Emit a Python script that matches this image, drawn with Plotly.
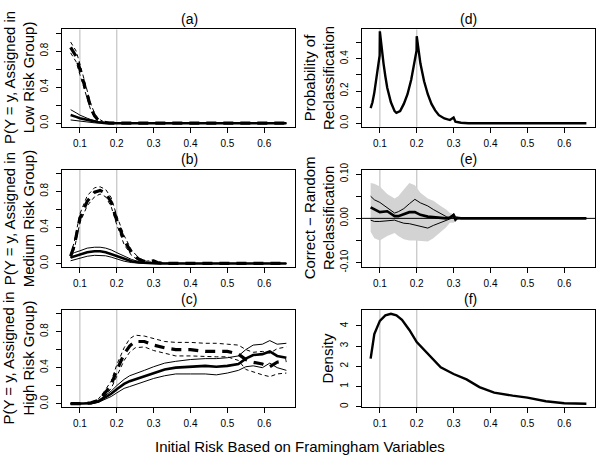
import plotly.graph_objects as go

# ---------------- data ----------------
# (a) low risk group
a_x = [0.075, 0.08, 0.09, 0.1, 0.11, 0.12, 0.13, 0.14, 0.15, 0.165, 0.18, 0.2, 0.3, 0.4, 0.5, 0.6, 0.66]
a_dash = [0.84, 0.81, 0.74, 0.60, 0.45, 0.30, 0.17, 0.08, 0.035, 0.01, 0.0, 0, 0, 0, 0, 0, 0]
a_dash_hi = [0.90, 0.87, 0.80, 0.66, 0.50, 0.35, 0.21, 0.11, 0.05, 0.015, 0.003, 0, 0, 0, 0, 0, 0]
a_dash_lo = [0.78, 0.75, 0.68, 0.54, 0.40, 0.26, 0.14, 0.06, 0.02, 0.005, 0, 0, 0, 0, 0, 0, 0]
a_sol = [0.09, 0.085, 0.07, 0.055, 0.045, 0.035, 0.025, 0.017, 0.01, 0.004, 0.001, 0, 0, 0, 0, 0, 0]
a_sol_hi = [0.15, 0.14, 0.115, 0.09, 0.07, 0.055, 0.04, 0.028, 0.018, 0.008, 0.002, 0, 0, 0, 0, 0, 0]
a_sol_lo = [0.036, 0.033, 0.026, 0.02, 0.015, 0.011, 0.007, 0.004, 0.002, 0.001, 0, 0, 0, 0, 0, 0, 0]

# (b) medium risk group
b_x = [0.075, 0.085, 0.1, 0.12, 0.14, 0.155, 0.17, 0.185, 0.2, 0.22, 0.24, 0.26, 0.28, 0.3, 0.31, 0.33, 0.4, 0.5, 0.6, 0.66]
b_dash = [0.08, 0.2, 0.5, 0.69, 0.79, 0.81, 0.78, 0.68, 0.48, 0.26, 0.12, 0.045, 0.018, 0.028, 0.01, 0, 0, 0, 0, 0]
b_dash_hi = [0.1, 0.24, 0.55, 0.75, 0.84, 0.85, 0.82, 0.73, 0.53, 0.31, 0.15, 0.06, 0.025, 0.035, 0.015, 0.002, 0, 0, 0, 0]
b_dash_lo = [0.06, 0.16, 0.45, 0.64, 0.74, 0.77, 0.74, 0.63, 0.43, 0.21, 0.09, 0.03, 0.01, 0.02, 0.005, 0, 0, 0, 0, 0]
b_sol = [0.065, 0.08, 0.1, 0.125, 0.135, 0.135, 0.125, 0.105, 0.08, 0.05, 0.025, 0.01, 0.004, 0.002, 0.001, 0, 0, 0, 0, 0]
b_sol_hi = [0.1, 0.12, 0.14, 0.17, 0.18, 0.18, 0.17, 0.15, 0.12, 0.08, 0.045, 0.02, 0.008, 0.004, 0.002, 0, 0, 0, 0, 0]
b_sol_lo = [0.03, 0.04, 0.06, 0.08, 0.09, 0.09, 0.085, 0.07, 0.05, 0.025, 0.01, 0.003, 0.001, 0, 0, 0, 0, 0, 0, 0]

# (c) high risk group
c_x = [0.075, 0.1, 0.13, 0.15, 0.165, 0.185, 0.2, 0.22, 0.235, 0.25, 0.275, 0.3, 0.33, 0.36, 0.4, 0.44, 0.47, 0.5, 0.53, 0.55, 0.57, 0.595, 0.615, 0.635, 0.66]
c_dash = [0, 0, 0.01, 0.035, 0.1, 0.21, 0.37, 0.55, 0.64, 0.69, 0.69, 0.65, 0.62, 0.6, 0.6, 0.58, 0.58, 0.58, 0.55, 0.49, 0.46, 0.44, 0.41, 0.46, 0.48]
c_dash_hi = [0, 0, 0.015, 0.05, 0.13, 0.25, 0.43, 0.62, 0.72, 0.76, 0.75, 0.72, 0.69, 0.68, 0.68, 0.67, 0.67, 0.66, 0.65, 0.6, 0.57, 0.58, 0.56, 0.61, 0.63]
c_dash_lo = [0, 0, 0.005, 0.02, 0.07, 0.17, 0.31, 0.48, 0.57, 0.62, 0.63, 0.59, 0.56, 0.53, 0.53, 0.52, 0.52, 0.52, 0.48, 0.38, 0.35, 0.32, 0.3, 0.33, 0.34]
c_sol = [0, 0, 0.005, 0.025, 0.06, 0.11, 0.16, 0.22, 0.25, 0.27, 0.31, 0.34, 0.38, 0.4, 0.41, 0.42, 0.41, 0.42, 0.44, 0.5, 0.54, 0.55, 0.58, 0.53, 0.51]
c_sol_hi = [0, 0, 0.01, 0.035, 0.08, 0.14, 0.2, 0.27, 0.31, 0.33, 0.37, 0.41, 0.45, 0.47, 0.49, 0.5, 0.5, 0.51, 0.53, 0.6, 0.65, 0.66, 0.7, 0.66, 0.67]
c_sol_lo = [0, 0, 0.002, 0.015, 0.04, 0.08, 0.12, 0.17, 0.19, 0.21, 0.25, 0.28, 0.31, 0.33, 0.33, 0.33, 0.32, 0.34, 0.37, 0.41, 0.42, 0.4, 0.45, 0.4, 0.37]

# (d) probability of reclassification
d_x = [0.075, 0.08, 0.085, 0.09, 0.095, 0.0995, 0.1, 0.105, 0.11, 0.115, 0.12, 0.13, 0.14, 0.145, 0.155, 0.165,
       0.175, 0.185, 0.195, 0.1995, 0.2, 0.205, 0.21, 0.22, 0.23, 0.24, 0.25, 0.26, 0.275, 0.29, 0.3, 0.305,
       0.32, 0.34, 0.4, 0.5, 0.6, 0.66]
d_y = [0.094, 0.13, 0.19, 0.26, 0.33, 0.42, 0.57, 0.46, 0.37, 0.29, 0.22, 0.13, 0.075, 0.064, 0.075, 0.12,
       0.18, 0.27, 0.38, 0.45, 0.54, 0.45, 0.37, 0.26, 0.18, 0.12, 0.08, 0.05, 0.03, 0.02, 0.036, 0.01,
       0.003, 0, 0, 0, 0, 0]

# (e) correct - random reclassification
e_x = [0.075, 0.085, 0.1, 0.12, 0.14, 0.15, 0.165, 0.18, 0.195, 0.21, 0.23, 0.245, 0.265, 0.28, 0.29, 0.3,
       0.305, 0.31, 0.32, 0.33, 0.34, 0.4, 0.5, 0.6, 0.66]
e_band_hi = [0.08, 0.078, 0.072, 0.055, 0.045, 0.05, 0.065, 0.08, 0.075, 0.058, 0.045, 0.04, 0.028, 0.02, 0.012,
             0.01, 0.006, 0.004, 0.002, 0.001, 0, 0, 0, 0, 0]
e_band_lo = [-0.03, -0.045, -0.05, -0.04, -0.033, -0.04, -0.047, -0.05, -0.05, -0.05, -0.052, -0.045, -0.03,
             -0.02, -0.01, -0.01, -0.005, -0.003, -0.001, 0, 0, 0, 0, 0, 0]
e_hi = [0.05, 0.042, 0.036, 0.025, 0.012, 0.015, 0.022, 0.033, 0.043, 0.035, 0.028, 0.02, 0.01, 0.004, 0.0,
        0.011, 0.004, 0.002, 0.001, 0, 0, 0, 0, 0, 0]
e_mid = [0.025, 0.02, 0.014, 0.016, 0.005, 0.005, 0.01, 0.014, 0.014, 0.008, 0.004, 0.003, 0.001, 0.0, 0.002,
         0.007, -0.003, 0.001, 0, 0, 0, 0, 0, 0, 0]
e_lo = [-0.004, -0.007, -0.007, -0.005, -0.004, -0.007, -0.011, -0.012, -0.015, -0.018, -0.022, -0.016, -0.01,
        -0.005, -0.002, 0.002, -0.004, -0.001, 0, 0, 0, 0, 0, 0, 0]

# (f) density
f_x = [0.075, 0.085, 0.1, 0.115, 0.13, 0.145, 0.16, 0.18, 0.2, 0.22, 0.24, 0.265, 0.3, 0.335, 0.37, 0.41,
       0.46, 0.5, 0.55, 0.6, 0.66]
f_y = [2.38, 3.6, 4.25, 4.52, 4.6, 4.52, 4.3, 3.8, 3.2, 2.8, 2.4, 1.95, 1.62, 1.35, 0.97, 0.7,
       0.55, 0.45, 0.27, 0.17, 0.15]

panel_titles = ["(a)", "(b)", "(c)", "(d)", "(e)", "(f)"]
ylabels = ["P(Y = y, Assigned in<br>Low Risk Group)",
           "P(Y = y, Assigned in<br>Medium Risk Group)",
           "P(Y = y, Assigned in<br>High Risk Group)",
           "Probability of<br>Reclassification",
           "Correct \u2212 Random<br>Reclassification",
           "Density"]
xlabel = "Initial Risk Based on Framingham Variables"
x_ticks = [0.1, 0.2, 0.3, 0.4, 0.5, 0.6]
x_ticktext = ["0.1", "0.2", "0.3", "0.4", "0.5", "0.6"]
cutpoints = [0.1, 0.2]

# ---------------- figure ----------------
W, H = 600, 462
FONT = "Liberation Sans, Arial, Helvetica, sans-serif"
fig = go.Figure()

left_x = [62, 295]
right_x = [362, 595]
rows_px = [(23, 123), (167, 267), (311, 411)]


def xdom(px):
    return [px[0] / W, px[1] / W]


def ydom(r):
    return [1 - r[1] / H, 1 - r[0] / H]


panels = [
    (xdom(left_x), ydom(rows_px[0])),
    (xdom(left_x), ydom(rows_px[1])),
    (xdom(left_x), ydom(rows_px[2])),
    (xdom(right_x), ydom(rows_px[0])),
    (xdom(right_x), ydom(rows_px[1])),
    (xdom(right_x), ydom(rows_px[2])),
]

yspecs = [
    dict(range=[-0.04, 1.04], tickvals=[0, 0.2, 0.4, 0.6, 0.8, 1.0], ticktext=["0.0", "", "0.4", "", "0.8", ""]),
    dict(range=[-0.04, 1.04], tickvals=[0, 0.2, 0.4, 0.6, 0.8, 1.0], ticktext=["0.0", "", "0.4", "", "0.8", ""]),
    dict(range=[-0.04, 1.04], tickvals=[0, 0.2, 0.4, 0.6, 0.8, 1.0], ticktext=["0.0", "", "0.4", "", "0.8", ""]),
    dict(range=[-0.022, 0.582], tickvals=[0, 0.1, 0.2, 0.3, 0.4, 0.5], ticktext=["0.0", "", "0.2", "", "0.4", ""]),
    dict(range=[-0.11, 0.11], tickvals=[-0.1, -0.05, 0, 0.05, 0.1], ticktext=["-0.10", "", "0.00", "", "0.10"]),
    dict(range=[-0.03, 4.79], tickvals=[0, 1, 2, 3, 4], ticktext=["0", "1", "2", "3", "4"]),
]

for i, (xd, yd) in enumerate(panels):
    n = "" if i == 0 else str(i + 1)
    fig.layout["xaxis" + n] = dict(
        domain=xd, anchor="y" + n, range=[0.0516, 0.6834],
        tickvals=x_ticks, ticktext=x_ticktext,
        showline=True, mirror=True, linecolor="black", linewidth=1,
        ticks="outside", ticklen=5, tickcolor="black", tickwidth=1,
        showgrid=False, zeroline=False, ticklabelstandoff=2,
        tickfont=dict(size=10, color="black", family=FONT),
    )
    fig.layout["yaxis" + n] = dict(
        domain=yd, anchor="x" + n,
        showline=True, mirror=True, linecolor="black", linewidth=1,
        ticks="outside", ticklen=5, tickcolor="black", tickwidth=1,
        showgrid=False, zeroline=False, tickangle=-90, ticklabelstandoff=4,
        tickfont=dict(size=10, color="black", family=FONT),
        **yspecs[i],
    )
    # cut-point reference lines
    for c in cutpoints:
        fig.add_shape(type="line", xref="x" + n, yref="y" + n + " domain",
                      x0=c, x1=c, y0=0, y1=1,
                      line=dict(color="#c8c8c8", width=1.3), layer="below")
    # panel title
    fig.add_annotation(text=panel_titles[i], xref="paper", yref="paper",
                       x=(xd[0] + xd[1]) / 2, y=yd[1] + 11 / H, yanchor="middle",
                       showarrow=False, font=dict(size=14, color="black", family=FONT))

# y-axis labels
for i, (xd, yd) in enumerate(panels):
    two = "<br>" in ylabels[i]
    base = 19 if i < 3 else 319
    xpos = base if two else base + 9
    fig.add_annotation(text=ylabels[i], xref="paper", yref="paper",
                       x=xpos / W, y=(yd[0] + yd[1]) / 2, textangle=-90,
                       xanchor="center", yanchor="middle", showarrow=False,
                       font=dict(size=15, color="black", family=FONT))

fig.add_annotation(text=xlabel, xref="paper", yref="paper", x=0.5, y=1 - 451 / H,
                   xanchor="center", yanchor="middle", showarrow=False,
                   font=dict(size=15, color="black", family=FONT))

THIN = dict(color="black", width=1)
THICK = dict(color="black", width=2.6)
THIN_D = dict(color="black", width=1, dash="4px,3px")
THICK_D = dict(color="black", width=3.2, dash="10px,7px")


def add(x, y, line, k):
    n = "" if k == 0 else str(k + 1)
    fig.add_trace(go.Scatter(x=x, y=y, mode="lines", line=line, xaxis="x" + n, yaxis="y" + n,
                             showlegend=False, hoverinfo="skip"))


groups = [
    (a_x, a_dash, a_dash_hi, a_dash_lo, a_sol, a_sol_hi, a_sol_lo),
    (b_x, b_dash, b_dash_hi, b_dash_lo, b_sol, b_sol_hi, b_sol_lo),
    (c_x, c_dash, c_dash_hi, c_dash_lo, c_sol, c_sol_hi, c_sol_lo),
]
for k, (gx, dm, dh, dl, sm, sh, sl) in enumerate(groups):
    add(gx, sh, THIN, k)
    add(gx, sl, THIN, k)
    add(gx, sm, THICK, k)
    add(gx, dh, THIN_D, k)
    add(gx, dl, THIN_D, k)
    add(gx, dm, THICK_D, k)

# (d)
add(d_x, d_y, dict(color="black", width=2.4), 3)

# (e) band + lines
fig.add_trace(go.Scatter(x=e_x + e_x[::-1], y=e_band_hi + e_band_lo[::-1], mode="lines",
                         fill="toself", fillcolor="#d3d3d3", line=dict(width=0),
                         xaxis="x5", yaxis="y5", showlegend=False, hoverinfo="skip"))
fig.add_shape(type="line", xref="x5 domain", yref="y5", x0=0, x1=1, y0=0, y1=0,
              line=dict(color="black", width=1))
add(e_x, e_hi, THIN, 4)
add(e_x, e_lo, THIN, 4)
add(e_x, e_mid, THICK, 4)

# (f)
add(f_x, f_y, dict(color="black", width=2.4), 5)

fig.update_layout(width=W, height=H, margin=dict(l=0, r=0, t=0, b=0),
                  paper_bgcolor="white", plot_bgcolor="white", showlegend=False,
                  font=dict(family=FONT, color="black"))

fig.write_html("out.html", config={"displayModeBar": False},
               post_script="document.body.style.margin='0';")
